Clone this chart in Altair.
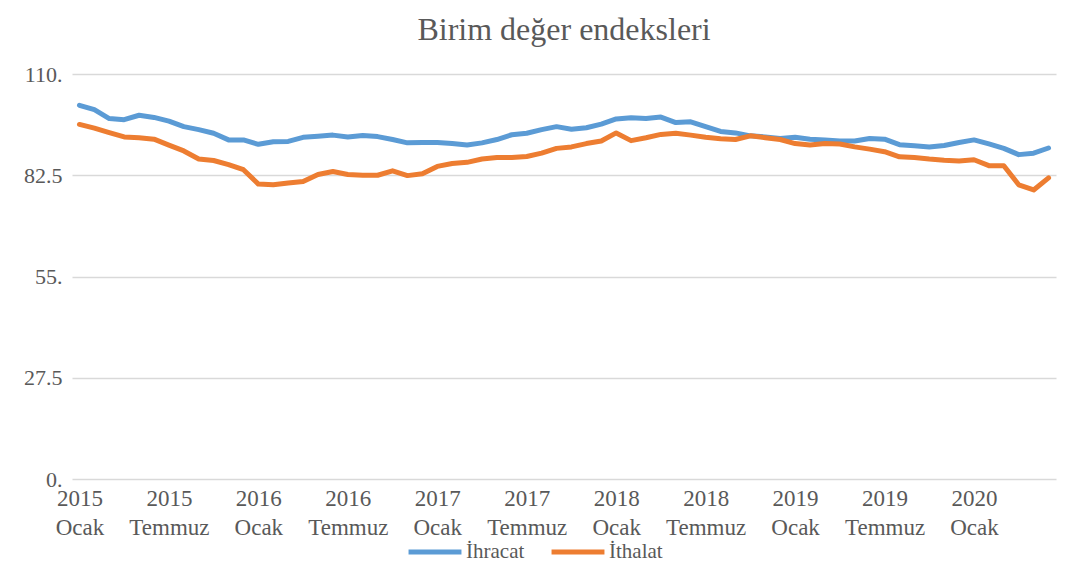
import altair as alt
import pandas as pd

ihracat = [101.5, 100.3, 97.9, 97.6, 98.8, 98.2, 97.2, 95.7, 94.9, 93.9, 92.1, 92.1,
           90.9, 91.6, 91.7, 92.8, 93.1, 93.4, 92.9, 93.3, 93.0, 92.2, 91.3, 91.4,
           91.4, 91.1, 90.7, 91.3, 92.2, 93.5, 93.9, 94.9, 95.7, 95.0, 95.4, 96.4,
           97.8, 98.1, 97.9, 98.3, 96.8, 97.0, 95.7, 94.4, 94.0, 93.2, 92.9, 92.5,
           92.8, 92.3, 92.1, 91.8, 91.8, 92.5, 92.3, 90.8, 90.5, 90.2, 90.6, 91.4,
           92.1, 91.0, 89.8, 88.1, 88.5, 89.9]
ithalat = [96.3, 95.3, 94.1, 92.9, 92.7, 92.3, 90.7, 89.1, 86.9, 86.5, 85.4, 84.0,
           80.1, 79.9, 80.4, 80.8, 82.7, 83.5, 82.7, 82.5, 82.5, 83.7, 82.4, 82.9,
           84.9, 85.7, 86.0, 86.9, 87.3, 87.3, 87.6, 88.5, 89.8, 90.2, 91.1, 91.8,
           94.0, 91.9, 92.7, 93.6, 93.9, 93.4, 92.8, 92.4, 92.2, 93.2, 92.7, 92.2,
           91.1, 90.7, 91.1, 91.0, 90.2, 89.6, 88.9, 87.5, 87.3, 86.9, 86.6, 86.4,
           86.7, 85.1, 85.1, 79.9, 78.5, 81.8]
series_names = ["İhracat", "İthalat"]
series_colors = ["#5b9bd5", "#ed7d31"]
tick_years = ["2015", "2015", "2016", "2016", "2017", "2017", "2018", "2018", "2019", "2019", "2020"]
tick_months = ["Ocak", "Temmuz", "Ocak", "Temmuz", "Ocak", "Temmuz", "Ocak", "Temmuz", "Ocak", "Temmuz", "Ocak"]
tick_positions = [0, 6, 12, 18, 24, 30, 36, 42, 48, 54, 60]
y_ticks = [0, 27.5, 55, 82.5, 110]

n = len(ihracat)
df = pd.DataFrame({
    "t": list(range(n)) * 2,
    "v": ihracat + ithalat,
    "s": [series_names[0]] * n + [series_names[1]] * n,
})

label_arr = "[" + ",".join(f"['{y}','{m}']" for y, m in zip(tick_years, tick_months)) + "]"
x_label_expr = f"{label_arr}[round(datum.value / 6)]"
y_label_expr = "datum.value % 1 == 0 ? datum.value + '.' : '' + datum.value"

FONT = "Liberation Serif"
GREY = "#595959"

chart = alt.Chart(df).mark_line(strokeWidth=5, strokeJoin="round", strokeCap="round").encode(
    x=alt.X("t:Q",
            scale=alt.Scale(domain=[-0.5, n - 0.5], nice=False, zero=False),
            axis=alt.Axis(values=tick_positions, labelExpr=x_label_expr, title=None,
                          grid=False, domain=False, ticks=False, labelPadding=8,
                          labelFontSize=23, labelFont=FONT, labelColor=GREY,
                          labelLineHeight=29, labelBaseline="top", labelFlush=False,
                          labelOverlap=False)),
    y=alt.Y("v:Q",
            scale=alt.Scale(domain=[0, 110], nice=False),
            axis=alt.Axis(values=y_ticks, labelExpr=y_label_expr, title=None,
                          grid=True, gridColor="#d9d9d9", gridWidth=1.5,
                          domain=False, ticks=False, labelPadding=10,
                          labelFontSize=22, labelFont=FONT, labelColor=GREY)),
    color=alt.Color("s:N", sort=series_names,
                    scale=alt.Scale(domain=series_names, range=series_colors),
                    legend=alt.Legend(title=None, orient="none", direction="horizontal",
                                      legendX=334, legendY=449,
                                      symbolType="stroke", symbolSize=2800,
                                      symbolStrokeWidth=5, labelFontSize=21,
                                      labelFont=FONT, labelColor=GREY,
                                      labelOffset=2, columnPadding=16)),
).properties(
    width=984, height=405,
    title=alt.TitleParams("Birim değer endeksleri", font=FONT, fontSize=32,
                          fontWeight="normal", color=GREY, anchor="middle", offset=16),
    autosize=alt.AutoSizeParams(type="none"),
    padding={"left": 64, "top": 66, "right": 22, "bottom": 85},
).configure_view(stroke=None)

chart.save("out.html", embed_options={"renderer": "svg", "actions": False})
